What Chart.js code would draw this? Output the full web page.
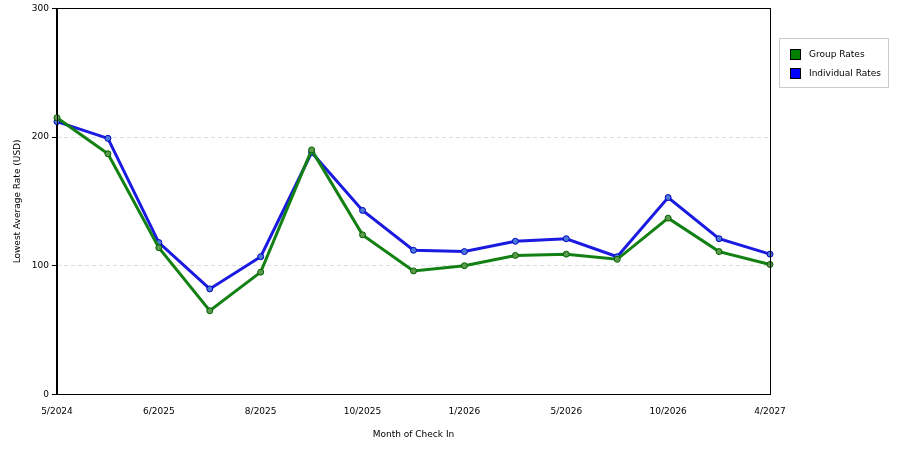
<!DOCTYPE html>
<html><head><meta charset="utf-8">
<script src="https://cdn.jsdelivr.net/npm/chart.js@4"></script>
<style>
body{margin:0;background:#fff;font-family:"DejaVu Sans",sans-serif}
#wrap{position:absolute;left:0;top:0;width:900px;height:450px}
#leg{position:absolute;left:779px;top:38px;width:108px;height:48px;border:1px solid #ccc;font-size:9px;color:#000}
.it{position:absolute;left:10px;height:12px;line-height:12px}
.sw{display:inline-block;width:11px;height:11px;border:1px solid #000;vertical-align:middle;margin-right:8px;box-sizing:border-box}
</style></head><body>
<div id="wrap"><canvas id="c" width="900" height="450" style="width:900px;height:450px"></canvas></div>
<div id="leg">
<div class="it" style="top:9px"><span class="sw" style="background:#008000"></span>Group Rates</div>
<div class="it" style="top:28px"><span class="sw" style="background:#0000ff"></span>Individual Rates</div>
</div>
<script>
const categories=["5/2024","","6/2025","","8/2025","","10/2025","","1/2026","","5/2026","","10/2026","","4/2027"];
const groupRates=[215,187,114,65,95,190,124,96,100,108,109,105,137,111,101];
const individualRates=[212,199,118,82,107,188,143,112,111,119,121,107,153,121,109];
const yTicks=[0,100,200,300];
const border={id:'bd',afterDraw(c){const a=c.chartArea,x=c.ctx;x.save();x.strokeStyle='#000';x.lineWidth=1;x.strokeRect(Math.round(a.left)+0.5,Math.round(a.top)+0.5,Math.round(a.right-a.left),Math.round(a.bottom-a.top));x.restore();}};
Chart.defaults.font.family='"DejaVu Sans",sans-serif';
Chart.defaults.font.size=9;
Chart.defaults.color='#000';
new Chart(document.getElementById('c'),{type:'line',
data:{labels:categories,datasets:[
{label:'Group Rates',data:groupRates,borderColor:'#138013',backgroundColor:'#5a9a4a',pointBorderColor:'#006000',borderWidth:3,pointRadius:3,pointBorderWidth:1,tension:0},
{label:'Individual Rates',data:individualRates,borderColor:'#1a1ae0',backgroundColor:'#4a7ad8',pointBorderColor:'#0000c0',borderWidth:3,pointRadius:3,pointBorderWidth:1,tension:0}]},
options:{responsive:false,animation:false,devicePixelRatio:1,
layout:{padding:{top:5,right:130,left:8,bottom:6}},
plugins:{legend:{display:false},tooltip:{enabled:false}},
scales:{
x:{grid:{display:false},border:{color:'#000'},ticks:{autoSkip:false,maxRotation:0,padding:4},
title:{display:true,text:'Month of Check In',padding:{top:8}}},
y:{min:0,max:300,afterBuildTicks(a){a.ticks=yTicks.map(v=>({value:v}));},
grid:{color:'#ddd',drawTicks:true,tickColor:'#000',tickLength:5},border:{color:'#000',dash:[4,3]},
ticks:{padding:3},title:{display:true,text:'Lowest Average Rate (USD)',padding:{bottom:6}}}}},
plugins:[border]});
</script>
</body></html>
